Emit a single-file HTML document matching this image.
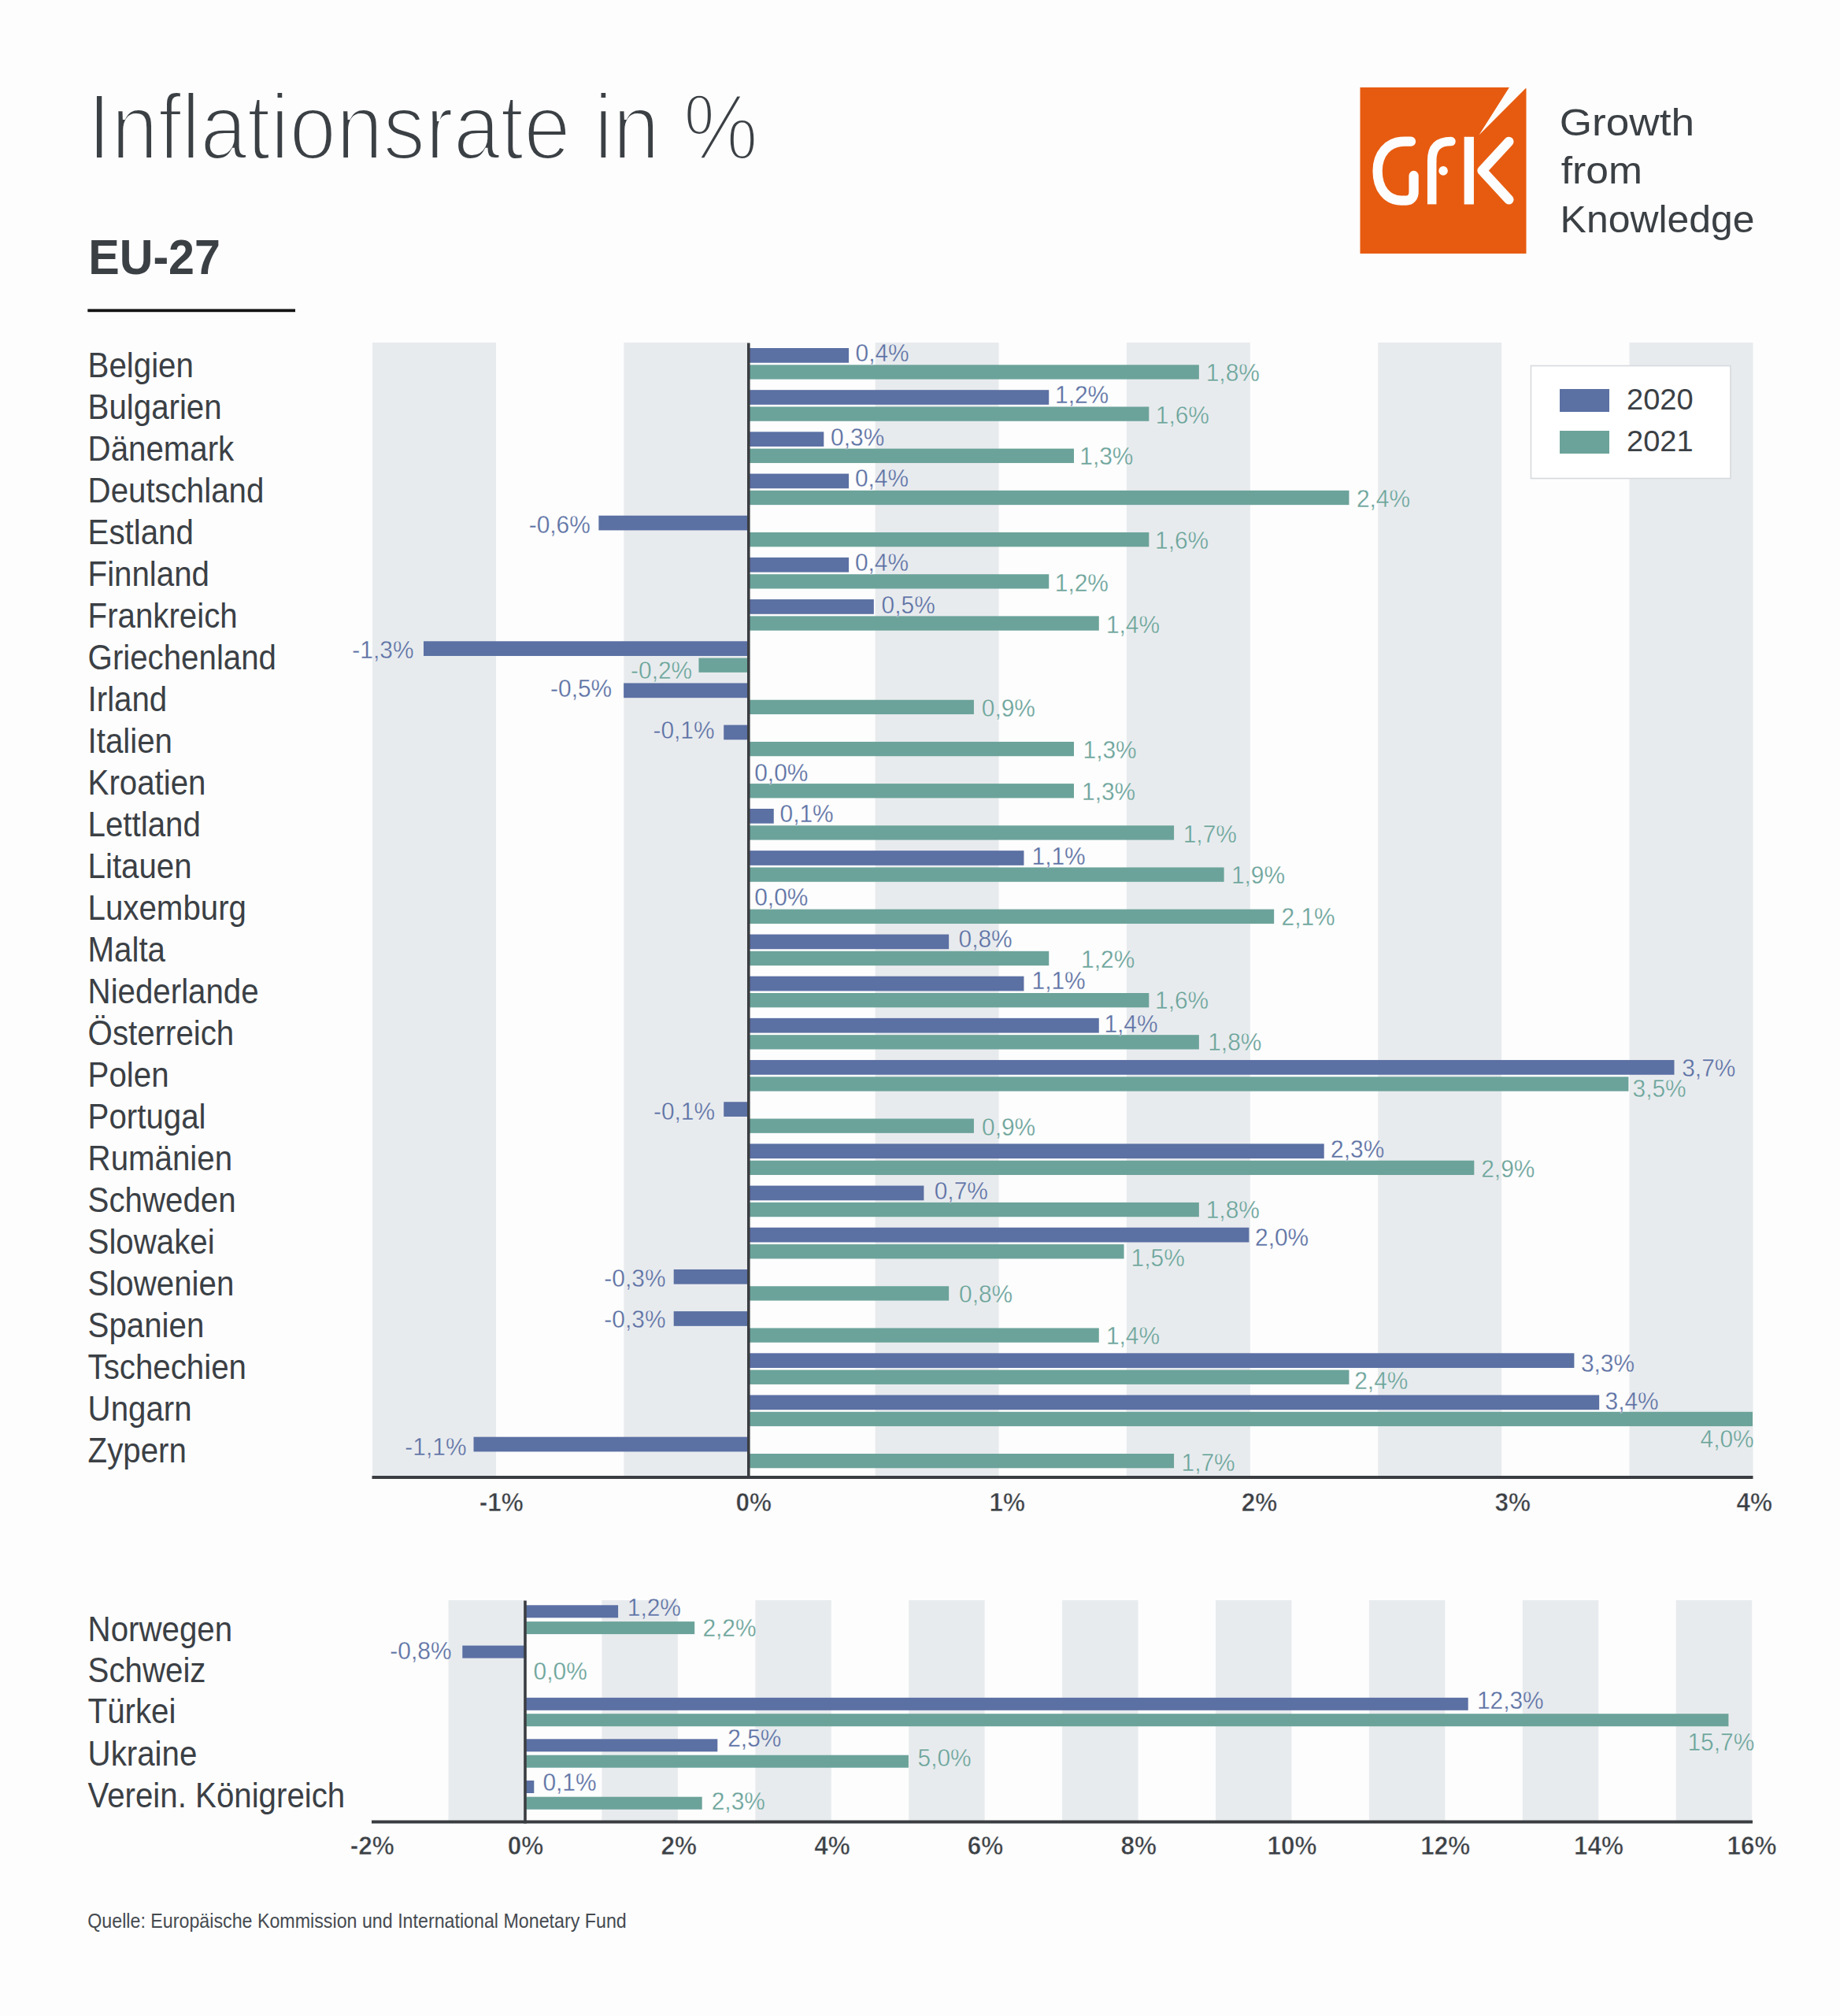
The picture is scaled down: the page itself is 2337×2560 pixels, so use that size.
<!DOCTYPE html><html><head><meta charset="utf-8"><title>Inflationsrate in %</title><style>html,body{margin:0;padding:0;background:#fdfdfd;}body{width:2337px;height:2560px;overflow:hidden;position:relative;}svg{position:absolute;left:0;top:0;}text{font-family:"Liberation Sans",sans-serif;}</style></head><body>
<svg width="2337" height="2560" viewBox="0 0 2337 2560">
<text transform="translate(111.37 202.00) scale(0.9080 1)" font-size="118.00" font-weight="400" fill="#3b4045" text-anchor="start" stroke="#fdfdfd" stroke-width="4">Inflationsrate in %</text>
<text transform="translate(112.15 347.80) scale(0.9400 1)" font-size="63.00" font-weight="700" fill="#3b4045" text-anchor="start">EU-27</text>
<rect x="111.3" y="392.4" width="263.7" height="3.8" fill="#141414"/>
<g>
<polygon points="1727.5,111 1916.9,111 1878.5,171.5 1937.6,112.3 1938.5,112.3 1938.5,322 1727.5,322" fill="#e75b10"/>
<g fill="none" stroke="#fdfdfd" stroke-width="12.3" stroke-linecap="round" stroke-linejoin="round">
<path d="M1792 179.6 L1784 179.6 C1762 179.6 1749.6 196 1749.6 217 C1749.6 240 1762 254.6 1780 254.6 L1786 254.6 C1792 254.6 1795.6 250 1795.6 244 L1795.6 223"/>
<path d="M1818.7 259.4 L1818.7 204" stroke-width="11.5" stroke-linecap="butt"/><path d="M1818.7 204 C1818.7 188 1826 179.6 1843 179.6" stroke-width="11.5"/>
<path d="M1865.8 173.8 L1865.8 259.4" stroke-linecap="butt"/>
<path d="M1916.4 179.8 L1882.5 216.6 L1916.4 253.4"/>
</g>
<circle cx="1833.1" cy="216.9" r="5.8" fill="#fdfdfd"/>
</g>
<text transform="translate(1980.77 172.30) scale(1.0910 1)" font-size="48.70" font-weight="400" fill="#3b4045" text-anchor="start">Growth</text>
<text transform="translate(1982.77 233.20) scale(1.0600 1)" font-size="48.70" font-weight="400" fill="#3b4045" text-anchor="start">from</text>
<text transform="translate(1981.60 295.20) scale(1.0250 1)" font-size="48.70" font-weight="400" fill="#3b4045" text-anchor="start">Knowledge</text>
<rect x="473.00" y="435" width="157" height="1439" fill="#e8ebee"/>
<rect x="792.30" y="435" width="157" height="1439" fill="#e8ebee"/>
<rect x="1111.60" y="435" width="157" height="1439" fill="#e8ebee"/>
<rect x="1430.90" y="435" width="157" height="1439" fill="#e8ebee"/>
<rect x="1750.20" y="435" width="157" height="1439" fill="#e8ebee"/>
<rect x="2069.50" y="435" width="157" height="1439" fill="#e8ebee"/>
<rect x="951.00" y="442.00" width="127.08" height="18.70" fill="#5b70a3"/>
<rect x="951.00" y="463.30" width="571.86" height="18.30" fill="#6ba39a"/>
<rect x="951.00" y="495.18" width="381.24" height="18.70" fill="#5b70a3"/>
<rect x="951.00" y="516.48" width="508.32" height="18.30" fill="#6ba39a"/>
<rect x="951.00" y="548.36" width="95.31" height="18.70" fill="#5b70a3"/>
<rect x="951.00" y="569.66" width="413.01" height="18.30" fill="#6ba39a"/>
<rect x="951.00" y="601.54" width="127.08" height="18.70" fill="#5b70a3"/>
<rect x="951.00" y="622.84" width="762.48" height="18.30" fill="#6ba39a"/>
<rect x="760.38" y="654.72" width="190.62" height="18.70" fill="#5b70a3"/>
<rect x="951.00" y="676.02" width="508.32" height="18.30" fill="#6ba39a"/>
<rect x="951.00" y="707.90" width="127.08" height="18.70" fill="#5b70a3"/>
<rect x="951.00" y="729.20" width="381.24" height="18.30" fill="#6ba39a"/>
<rect x="951.00" y="761.08" width="158.85" height="18.70" fill="#5b70a3"/>
<rect x="951.00" y="782.38" width="444.78" height="18.30" fill="#6ba39a"/>
<rect x="537.99" y="814.26" width="413.01" height="18.70" fill="#5b70a3"/>
<rect x="887.46" y="835.56" width="63.54" height="18.30" fill="#6ba39a"/>
<rect x="792.15" y="867.44" width="158.85" height="18.70" fill="#5b70a3"/>
<rect x="951.00" y="888.74" width="285.93" height="18.30" fill="#6ba39a"/>
<rect x="919.23" y="920.62" width="31.77" height="18.70" fill="#5b70a3"/>
<rect x="951.00" y="941.92" width="413.01" height="18.30" fill="#6ba39a"/>
<rect x="951.00" y="995.10" width="413.01" height="18.30" fill="#6ba39a"/>
<rect x="951.00" y="1026.98" width="31.77" height="18.70" fill="#5b70a3"/>
<rect x="951.00" y="1048.28" width="540.09" height="18.30" fill="#6ba39a"/>
<rect x="951.00" y="1080.16" width="349.47" height="18.70" fill="#5b70a3"/>
<rect x="951.00" y="1101.46" width="603.63" height="18.30" fill="#6ba39a"/>
<rect x="951.00" y="1154.64" width="667.17" height="18.30" fill="#6ba39a"/>
<rect x="951.00" y="1186.52" width="254.16" height="18.70" fill="#5b70a3"/>
<rect x="951.00" y="1207.82" width="381.24" height="18.30" fill="#6ba39a"/>
<rect x="951.00" y="1239.70" width="349.47" height="18.70" fill="#5b70a3"/>
<rect x="951.00" y="1261.00" width="508.32" height="18.30" fill="#6ba39a"/>
<rect x="951.00" y="1292.88" width="444.78" height="18.70" fill="#5b70a3"/>
<rect x="951.00" y="1314.18" width="571.86" height="18.30" fill="#6ba39a"/>
<rect x="951.00" y="1346.06" width="1175.49" height="18.70" fill="#5b70a3"/>
<rect x="951.00" y="1367.36" width="1117.40" height="18.30" fill="#6ba39a"/>
<rect x="919.23" y="1399.24" width="31.77" height="18.70" fill="#5b70a3"/>
<rect x="951.00" y="1420.54" width="285.93" height="18.30" fill="#6ba39a"/>
<rect x="951.00" y="1452.42" width="730.71" height="18.70" fill="#5b70a3"/>
<rect x="951.00" y="1473.72" width="921.33" height="18.30" fill="#6ba39a"/>
<rect x="951.00" y="1505.60" width="222.39" height="18.70" fill="#5b70a3"/>
<rect x="951.00" y="1526.90" width="571.86" height="18.30" fill="#6ba39a"/>
<rect x="951.00" y="1558.78" width="635.40" height="18.70" fill="#5b70a3"/>
<rect x="951.00" y="1580.08" width="476.55" height="18.30" fill="#6ba39a"/>
<rect x="855.69" y="1611.96" width="95.31" height="18.70" fill="#5b70a3"/>
<rect x="951.00" y="1633.26" width="254.16" height="18.30" fill="#6ba39a"/>
<rect x="855.69" y="1665.14" width="95.31" height="18.70" fill="#5b70a3"/>
<rect x="951.00" y="1686.44" width="444.78" height="18.30" fill="#6ba39a"/>
<rect x="951.00" y="1718.32" width="1048.41" height="18.70" fill="#5b70a3"/>
<rect x="951.00" y="1739.62" width="762.48" height="18.30" fill="#6ba39a"/>
<rect x="951.00" y="1771.50" width="1080.18" height="18.70" fill="#5b70a3"/>
<rect x="951.00" y="1792.80" width="1275.00" height="18.30" fill="#6ba39a"/>
<rect x="601.53" y="1824.68" width="349.47" height="18.70" fill="#5b70a3"/>
<rect x="951.00" y="1845.98" width="540.09" height="18.30" fill="#6ba39a"/>
<rect x="949" y="435.5" width="3.6" height="1442" fill="#3a3d41"/>
<rect x="472.5" y="1874" width="1754" height="4" fill="#3a3d41"/>
<text transform="translate(1086.50 458.90) scale(0.9650 1)" font-size="31.00" font-weight="400" fill="#5b70a3" text-anchor="start" stroke="#fdfdfd" stroke-width="0.3">0,4%</text>
<text transform="translate(1531.70 483.80) scale(0.9650 1)" font-size="31.00" font-weight="400" fill="#6ba39a" text-anchor="start" stroke="#fdfdfd" stroke-width="0.3">1,8%</text>
<text transform="translate(1340.00 512.20) scale(0.9650 1)" font-size="31.00" font-weight="400" fill="#5b70a3" text-anchor="start" stroke="#fdfdfd" stroke-width="0.3">1,2%</text>
<text transform="translate(1467.80 538.10) scale(0.9650 1)" font-size="31.00" font-weight="400" fill="#6ba39a" text-anchor="start" stroke="#fdfdfd" stroke-width="0.3">1,6%</text>
<text transform="translate(1055.10 566.00) scale(0.9650 1)" font-size="31.00" font-weight="400" fill="#5b70a3" text-anchor="start" stroke="#fdfdfd" stroke-width="0.3">0,3%</text>
<text transform="translate(1371.30 590.40) scale(0.9650 1)" font-size="31.00" font-weight="400" fill="#6ba39a" text-anchor="start" stroke="#fdfdfd" stroke-width="0.3">1,3%</text>
<text transform="translate(1085.90 618.40) scale(0.9650 1)" font-size="31.00" font-weight="400" fill="#5b70a3" text-anchor="start" stroke="#fdfdfd" stroke-width="0.3">0,4%</text>
<text transform="translate(1722.90 644.30) scale(0.9650 1)" font-size="31.00" font-weight="400" fill="#6ba39a" text-anchor="start" stroke="#fdfdfd" stroke-width="0.3">2,4%</text>
<text transform="translate(749.80 676.50) scale(0.9650 1)" font-size="31.00" font-weight="400" fill="#5b70a3" text-anchor="end" stroke="#fdfdfd" stroke-width="0.3">-0,6%</text>
<text transform="translate(1467.00 697.10) scale(0.9650 1)" font-size="31.00" font-weight="400" fill="#6ba39a" text-anchor="start" stroke="#fdfdfd" stroke-width="0.3">1,6%</text>
<text transform="translate(1085.90 725.00) scale(0.9650 1)" font-size="31.00" font-weight="400" fill="#5b70a3" text-anchor="start" stroke="#fdfdfd" stroke-width="0.3">0,4%</text>
<text transform="translate(1339.80 750.90) scale(0.9650 1)" font-size="31.00" font-weight="400" fill="#6ba39a" text-anchor="start" stroke="#fdfdfd" stroke-width="0.3">1,2%</text>
<text transform="translate(1119.60 778.80) scale(0.9650 1)" font-size="31.00" font-weight="400" fill="#5b70a3" text-anchor="start" stroke="#fdfdfd" stroke-width="0.3">0,5%</text>
<text transform="translate(1404.90 803.80) scale(0.9650 1)" font-size="31.00" font-weight="400" fill="#6ba39a" text-anchor="start" stroke="#fdfdfd" stroke-width="0.3">1,4%</text>
<text transform="translate(525.50 836.20) scale(0.9650 1)" font-size="31.00" font-weight="400" fill="#5b70a3" text-anchor="end" stroke="#fdfdfd" stroke-width="0.3">-1,3%</text>
<text transform="translate(879.20 862.30) scale(0.9650 1)" font-size="31.00" font-weight="400" fill="#6ba39a" text-anchor="end" stroke="#fdfdfd" stroke-width="0.3">-0,2%</text>
<text transform="translate(777.20 885.10) scale(0.9650 1)" font-size="31.00" font-weight="400" fill="#5b70a3" text-anchor="end" stroke="#fdfdfd" stroke-width="0.3">-0,5%</text>
<text transform="translate(1246.80 909.50) scale(0.9650 1)" font-size="31.00" font-weight="400" fill="#6ba39a" text-anchor="start" stroke="#fdfdfd" stroke-width="0.3">0,9%</text>
<text transform="translate(907.60 938.00) scale(0.9650 1)" font-size="31.00" font-weight="400" fill="#5b70a3" text-anchor="end" stroke="#fdfdfd" stroke-width="0.3">-0,1%</text>
<text transform="translate(1375.50 963.30) scale(0.9650 1)" font-size="31.00" font-weight="400" fill="#6ba39a" text-anchor="start" stroke="#fdfdfd" stroke-width="0.3">1,3%</text>
<text transform="translate(958.20 991.70) scale(0.9650 1)" font-size="31.00" font-weight="400" fill="#5b70a3" text-anchor="start" stroke="#fdfdfd" stroke-width="0.3">0,0%</text>
<text transform="translate(1374.00 1016.20) scale(0.9650 1)" font-size="31.00" font-weight="400" fill="#6ba39a" text-anchor="start" stroke="#fdfdfd" stroke-width="0.3">1,3%</text>
<text transform="translate(990.50 1044.10) scale(0.9650 1)" font-size="31.00" font-weight="400" fill="#5b70a3" text-anchor="start" stroke="#fdfdfd" stroke-width="0.3">0,1%</text>
<text transform="translate(1502.70 1070.00) scale(0.9650 1)" font-size="31.00" font-weight="400" fill="#6ba39a" text-anchor="start" stroke="#fdfdfd" stroke-width="0.3">1,7%</text>
<text transform="translate(1310.50 1097.90) scale(0.9650 1)" font-size="31.00" font-weight="400" fill="#5b70a3" text-anchor="start" stroke="#fdfdfd" stroke-width="0.3">1,1%</text>
<text transform="translate(1563.90 1122.30) scale(0.9650 1)" font-size="31.00" font-weight="400" fill="#6ba39a" text-anchor="start" stroke="#fdfdfd" stroke-width="0.3">1,9%</text>
<text transform="translate(958.20 1150.20) scale(0.9650 1)" font-size="31.00" font-weight="400" fill="#5b70a3" text-anchor="start" stroke="#fdfdfd" stroke-width="0.3">0,0%</text>
<text transform="translate(1627.50 1175.20) scale(0.9650 1)" font-size="31.00" font-weight="400" fill="#6ba39a" text-anchor="start" stroke="#fdfdfd" stroke-width="0.3">2,1%</text>
<text transform="translate(1217.50 1203.10) scale(0.9650 1)" font-size="31.00" font-weight="400" fill="#5b70a3" text-anchor="start" stroke="#fdfdfd" stroke-width="0.3">0,8%</text>
<text transform="translate(1373.10 1228.50) scale(0.9650 1)" font-size="31.00" font-weight="400" fill="#6ba39a" text-anchor="start" stroke="#fdfdfd" stroke-width="0.3">1,2%</text>
<text transform="translate(1310.50 1255.90) scale(0.9650 1)" font-size="31.00" font-weight="400" fill="#5b70a3" text-anchor="start" stroke="#fdfdfd" stroke-width="0.3">1,1%</text>
<text transform="translate(1467.00 1281.30) scale(0.9650 1)" font-size="31.00" font-weight="400" fill="#6ba39a" text-anchor="start" stroke="#fdfdfd" stroke-width="0.3">1,6%</text>
<text transform="translate(1402.40 1311.30) scale(0.9650 1)" font-size="31.00" font-weight="400" fill="#5b70a3" text-anchor="start" stroke="#fdfdfd" stroke-width="0.3">1,4%</text>
<text transform="translate(1534.20 1334.30) scale(0.9650 1)" font-size="31.00" font-weight="400" fill="#6ba39a" text-anchor="start" stroke="#fdfdfd" stroke-width="0.3">1,8%</text>
<text transform="translate(2136.20 1366.60) scale(0.9650 1)" font-size="31.00" font-weight="400" fill="#5b70a3" text-anchor="start" stroke="#fdfdfd" stroke-width="0.3">3,7%</text>
<text transform="translate(2073.50 1392.50) scale(0.9650 1)" font-size="31.00" font-weight="400" fill="#6ba39a" text-anchor="start" stroke="#fdfdfd" stroke-width="0.3">3,5%</text>
<text transform="translate(908.10 1422.30) scale(0.9650 1)" font-size="31.00" font-weight="400" fill="#5b70a3" text-anchor="end" stroke="#fdfdfd" stroke-width="0.3">-0,1%</text>
<text transform="translate(1247.00 1441.90) scale(0.9650 1)" font-size="31.00" font-weight="400" fill="#6ba39a" text-anchor="start" stroke="#fdfdfd" stroke-width="0.3">0,9%</text>
<text transform="translate(1690.10 1469.70) scale(0.9650 1)" font-size="31.00" font-weight="400" fill="#5b70a3" text-anchor="start" stroke="#fdfdfd" stroke-width="0.3">2,3%</text>
<text transform="translate(1881.20 1495.20) scale(0.9650 1)" font-size="31.00" font-weight="400" fill="#6ba39a" text-anchor="start" stroke="#fdfdfd" stroke-width="0.3">2,9%</text>
<text transform="translate(1186.70 1523.40) scale(0.9650 1)" font-size="31.00" font-weight="400" fill="#5b70a3" text-anchor="start" stroke="#fdfdfd" stroke-width="0.3">0,7%</text>
<text transform="translate(1531.70 1547.30) scale(0.9650 1)" font-size="31.00" font-weight="400" fill="#6ba39a" text-anchor="start" stroke="#fdfdfd" stroke-width="0.3">1,8%</text>
<text transform="translate(1594.00 1582.10) scale(0.9650 1)" font-size="31.00" font-weight="400" fill="#5b70a3" text-anchor="start" stroke="#fdfdfd" stroke-width="0.3">2,0%</text>
<text transform="translate(1436.60 1607.60) scale(0.9650 1)" font-size="31.00" font-weight="400" fill="#6ba39a" text-anchor="start" stroke="#fdfdfd" stroke-width="0.3">1,5%</text>
<text transform="translate(845.50 1634.30) scale(0.9650 1)" font-size="31.00" font-weight="400" fill="#5b70a3" text-anchor="end" stroke="#fdfdfd" stroke-width="0.3">-0,3%</text>
<text transform="translate(1218.00 1653.80) scale(0.9650 1)" font-size="31.00" font-weight="400" fill="#6ba39a" text-anchor="start" stroke="#fdfdfd" stroke-width="0.3">0,8%</text>
<text transform="translate(845.50 1686.40) scale(0.9650 1)" font-size="31.00" font-weight="400" fill="#5b70a3" text-anchor="end" stroke="#fdfdfd" stroke-width="0.3">-0,3%</text>
<text transform="translate(1404.90 1707.30) scale(0.9650 1)" font-size="31.00" font-weight="400" fill="#6ba39a" text-anchor="start" stroke="#fdfdfd" stroke-width="0.3">1,4%</text>
<text transform="translate(2007.90 1741.60) scale(0.9650 1)" font-size="31.00" font-weight="400" fill="#5b70a3" text-anchor="start" stroke="#fdfdfd" stroke-width="0.3">3,3%</text>
<text transform="translate(1720.20 1764.30) scale(0.9650 1)" font-size="31.00" font-weight="400" fill="#6ba39a" text-anchor="start" stroke="#fdfdfd" stroke-width="0.3">2,4%</text>
<text transform="translate(2038.50 1789.70) scale(0.9650 1)" font-size="31.00" font-weight="400" fill="#5b70a3" text-anchor="start" stroke="#fdfdfd" stroke-width="0.3">3,4%</text>
<text transform="translate(2227.70 1838.40) scale(0.9650 1)" font-size="31.00" font-weight="400" fill="#6ba39a" text-anchor="end" stroke="#fdfdfd" stroke-width="0.3">4,0%</text>
<text transform="translate(592.50 1848.40) scale(0.9650 1)" font-size="31.00" font-weight="400" fill="#5b70a3" text-anchor="end" stroke="#fdfdfd" stroke-width="0.3">-1,1%</text>
<text transform="translate(1500.50 1868.20) scale(0.9650 1)" font-size="31.00" font-weight="400" fill="#6ba39a" text-anchor="start" stroke="#fdfdfd" stroke-width="0.3">1,7%</text>
<text transform="translate(111.58 478.70) scale(0.9150 1)" font-size="44.00" font-weight="400" fill="#3b4045" text-anchor="start">Belgien</text>
<text transform="translate(111.58 531.73) scale(0.9150 1)" font-size="44.00" font-weight="400" fill="#3b4045" text-anchor="start">Bulgarien</text>
<text transform="translate(111.58 584.76) scale(0.9150 1)" font-size="44.00" font-weight="400" fill="#3b4045" text-anchor="start">Dänemark</text>
<text transform="translate(111.58 637.79) scale(0.9150 1)" font-size="44.00" font-weight="400" fill="#3b4045" text-anchor="start">Deutschland</text>
<text transform="translate(111.58 690.82) scale(0.9150 1)" font-size="44.00" font-weight="400" fill="#3b4045" text-anchor="start">Estland</text>
<text transform="translate(111.58 743.85) scale(0.9150 1)" font-size="44.00" font-weight="400" fill="#3b4045" text-anchor="start">Finnland</text>
<text transform="translate(111.58 796.88) scale(0.9150 1)" font-size="44.00" font-weight="400" fill="#3b4045" text-anchor="start">Frankreich</text>
<text transform="translate(111.58 849.91) scale(0.9150 1)" font-size="44.00" font-weight="400" fill="#3b4045" text-anchor="start">Griechenland</text>
<text transform="translate(111.58 902.94) scale(0.9150 1)" font-size="44.00" font-weight="400" fill="#3b4045" text-anchor="start">Irland</text>
<text transform="translate(111.58 955.97) scale(0.9150 1)" font-size="44.00" font-weight="400" fill="#3b4045" text-anchor="start">Italien</text>
<text transform="translate(111.58 1009.00) scale(0.9150 1)" font-size="44.00" font-weight="400" fill="#3b4045" text-anchor="start">Kroatien</text>
<text transform="translate(111.58 1062.03) scale(0.9150 1)" font-size="44.00" font-weight="400" fill="#3b4045" text-anchor="start">Lettland</text>
<text transform="translate(111.58 1115.06) scale(0.9150 1)" font-size="44.00" font-weight="400" fill="#3b4045" text-anchor="start">Litauen</text>
<text transform="translate(111.58 1168.09) scale(0.9150 1)" font-size="44.00" font-weight="400" fill="#3b4045" text-anchor="start">Luxemburg</text>
<text transform="translate(111.58 1221.12) scale(0.9150 1)" font-size="44.00" font-weight="400" fill="#3b4045" text-anchor="start">Malta</text>
<text transform="translate(111.58 1274.15) scale(0.9150 1)" font-size="44.00" font-weight="400" fill="#3b4045" text-anchor="start">Niederlande</text>
<text transform="translate(111.58 1327.18) scale(0.9150 1)" font-size="44.00" font-weight="400" fill="#3b4045" text-anchor="start">Österreich</text>
<text transform="translate(111.58 1380.21) scale(0.9150 1)" font-size="44.00" font-weight="400" fill="#3b4045" text-anchor="start">Polen</text>
<text transform="translate(111.58 1433.24) scale(0.9150 1)" font-size="44.00" font-weight="400" fill="#3b4045" text-anchor="start">Portugal</text>
<text transform="translate(111.58 1486.27) scale(0.9150 1)" font-size="44.00" font-weight="400" fill="#3b4045" text-anchor="start">Rumänien</text>
<text transform="translate(111.58 1539.30) scale(0.9150 1)" font-size="44.00" font-weight="400" fill="#3b4045" text-anchor="start">Schweden</text>
<text transform="translate(111.58 1592.33) scale(0.9150 1)" font-size="44.00" font-weight="400" fill="#3b4045" text-anchor="start">Slowakei</text>
<text transform="translate(111.58 1645.36) scale(0.9150 1)" font-size="44.00" font-weight="400" fill="#3b4045" text-anchor="start">Slowenien</text>
<text transform="translate(111.58 1698.39) scale(0.9150 1)" font-size="44.00" font-weight="400" fill="#3b4045" text-anchor="start">Spanien</text>
<text transform="translate(111.58 1751.42) scale(0.9150 1)" font-size="44.00" font-weight="400" fill="#3b4045" text-anchor="start">Tschechien</text>
<text transform="translate(111.58 1804.45) scale(0.9150 1)" font-size="44.00" font-weight="400" fill="#3b4045" text-anchor="start">Ungarn</text>
<text transform="translate(111.58 1857.48) scale(0.9150 1)" font-size="44.00" font-weight="400" fill="#3b4045" text-anchor="start">Zypern</text>
<text transform="translate(636.80 1918.80) scale(0.9400 1)" font-size="33.50" font-weight="700" fill="#3b4045" text-anchor="middle" stroke="#fdfdfd" stroke-width="0.6">-1%</text>
<text transform="translate(957.20 1918.80) scale(0.9400 1)" font-size="33.50" font-weight="700" fill="#3b4045" text-anchor="middle" stroke="#fdfdfd" stroke-width="0.6">0%</text>
<text transform="translate(1279.20 1918.80) scale(0.9400 1)" font-size="33.50" font-weight="700" fill="#3b4045" text-anchor="middle" stroke="#fdfdfd" stroke-width="0.6">1%</text>
<text transform="translate(1599.50 1918.80) scale(0.9400 1)" font-size="33.50" font-weight="700" fill="#3b4045" text-anchor="middle" stroke="#fdfdfd" stroke-width="0.6">2%</text>
<text transform="translate(1921.20 1918.80) scale(0.9400 1)" font-size="33.50" font-weight="700" fill="#3b4045" text-anchor="middle" stroke="#fdfdfd" stroke-width="0.6">3%</text>
<text transform="translate(2228.30 1918.80) scale(0.9400 1)" font-size="33.50" font-weight="700" fill="#3b4045" text-anchor="middle" stroke="#fdfdfd" stroke-width="0.6">4%</text>
<rect x="1944.5" y="464.5" width="253.5" height="143" fill="#ffffff" stroke="#d6d9dd" stroke-width="1.6"/>
<rect x="1981" y="494" width="63" height="29" fill="#5b70a3"/>
<rect x="1981" y="547" width="63" height="29" fill="#6ba39a"/>
<text transform="translate(2065.97 520.00) scale(1.0400 1)" font-size="36.60" font-weight="400" fill="#3b4045" text-anchor="start">2020</text>
<text transform="translate(2065.97 573.00) scale(1.0400 1)" font-size="36.60" font-weight="400" fill="#3b4045" text-anchor="start">2021</text>
<rect x="569.50" y="2032" width="96.5" height="280" fill="#e8ebee"/>
<rect x="764.40" y="2032" width="96.5" height="280" fill="#e8ebee"/>
<rect x="959.30" y="2032" width="96.5" height="280" fill="#e8ebee"/>
<rect x="1154.20" y="2032" width="96.5" height="280" fill="#e8ebee"/>
<rect x="1349.10" y="2032" width="96.5" height="280" fill="#e8ebee"/>
<rect x="1544.00" y="2032" width="96.5" height="280" fill="#e8ebee"/>
<rect x="1738.90" y="2032" width="96.5" height="280" fill="#e8ebee"/>
<rect x="1933.80" y="2032" width="96.5" height="280" fill="#e8ebee"/>
<rect x="2128.70" y="2032" width="96.5" height="280" fill="#e8ebee"/>
<rect x="668.20" y="2038.30" width="116.90" height="16" fill="#5b70a3"/>
<rect x="668.20" y="2059.10" width="214.00" height="16" fill="#6ba39a"/>
<rect x="587.30" y="2089.60" width="80.90" height="16" fill="#5b70a3"/>
<rect x="668.20" y="2155.80" width="1196.50" height="16" fill="#5b70a3"/>
<rect x="668.20" y="2176.20" width="1527.20" height="16" fill="#6ba39a"/>
<rect x="668.20" y="2208.30" width="243.10" height="16" fill="#5b70a3"/>
<rect x="668.20" y="2228.70" width="485.70" height="16" fill="#6ba39a"/>
<rect x="668.20" y="2261.00" width="10.10" height="16" fill="#5b70a3"/>
<rect x="668.20" y="2281.70" width="223.50" height="16" fill="#6ba39a"/>
<rect x="665.2" y="2032.5" width="3.6" height="283" fill="#3a3d41"/>
<rect x="472" y="2311.5" width="1754" height="4" fill="#3a3d41"/>
<text transform="translate(796.80 2052.30) scale(0.9650 1)" font-size="31.00" font-weight="400" fill="#5b70a3" text-anchor="start" stroke="#fdfdfd" stroke-width="0.3">1,2%</text>
<text transform="translate(892.40 2078.40) scale(0.9650 1)" font-size="31.00" font-weight="400" fill="#6ba39a" text-anchor="start" stroke="#fdfdfd" stroke-width="0.3">2,2%</text>
<text transform="translate(573.50 2106.70) scale(0.9650 1)" font-size="31.00" font-weight="400" fill="#5b70a3" text-anchor="end" stroke="#fdfdfd" stroke-width="0.3">-0,8%</text>
<text transform="translate(677.60 2132.80) scale(0.9650 1)" font-size="31.00" font-weight="400" fill="#6ba39a" text-anchor="start" stroke="#fdfdfd" stroke-width="0.3">0,0%</text>
<text transform="translate(1875.90 2170.10) scale(0.9650 1)" font-size="31.00" font-weight="400" fill="#5b70a3" text-anchor="start" stroke="#fdfdfd" stroke-width="0.3">12,3%</text>
<text transform="translate(2228.30 2223.00) scale(0.9650 1)" font-size="31.00" font-weight="400" fill="#6ba39a" text-anchor="end" stroke="#fdfdfd" stroke-width="0.3">15,7%</text>
<text transform="translate(924.20 2218.40) scale(0.9650 1)" font-size="31.00" font-weight="400" fill="#5b70a3" text-anchor="start" stroke="#fdfdfd" stroke-width="0.3">2,5%</text>
<text transform="translate(1165.50 2243.20) scale(0.9650 1)" font-size="31.00" font-weight="400" fill="#6ba39a" text-anchor="start" stroke="#fdfdfd" stroke-width="0.3">5,0%</text>
<text transform="translate(689.40 2274.10) scale(0.9650 1)" font-size="31.00" font-weight="400" fill="#5b70a3" text-anchor="start" stroke="#fdfdfd" stroke-width="0.3">0,1%</text>
<text transform="translate(903.70 2298.00) scale(0.9650 1)" font-size="31.00" font-weight="400" fill="#6ba39a" text-anchor="start" stroke="#fdfdfd" stroke-width="0.3">2,3%</text>
<text transform="translate(111.58 2084.00) scale(0.9150 1)" font-size="44.00" font-weight="400" fill="#3b4045" text-anchor="start">Norwegen</text>
<text transform="translate(111.58 2136.00) scale(0.9150 1)" font-size="44.00" font-weight="400" fill="#3b4045" text-anchor="start">Schweiz</text>
<text transform="translate(111.58 2188.00) scale(0.9150 1)" font-size="44.00" font-weight="400" fill="#3b4045" text-anchor="start">Türkei</text>
<text transform="translate(111.58 2242.00) scale(0.9150 1)" font-size="44.00" font-weight="400" fill="#3b4045" text-anchor="start">Ukraine</text>
<text transform="translate(111.58 2295.00) scale(0.9150 1)" font-size="44.00" font-weight="400" fill="#3b4045" text-anchor="start">Verein. Königreich</text>
<text transform="translate(472.80 2354.50) scale(0.9400 1)" font-size="33.50" font-weight="700" fill="#3b4045" text-anchor="middle" stroke="#fdfdfd" stroke-width="0.6">-2%</text>
<text transform="translate(667.50 2354.50) scale(0.9400 1)" font-size="33.50" font-weight="700" fill="#3b4045" text-anchor="middle" stroke="#fdfdfd" stroke-width="0.6">0%</text>
<text transform="translate(862.20 2354.50) scale(0.9400 1)" font-size="33.50" font-weight="700" fill="#3b4045" text-anchor="middle" stroke="#fdfdfd" stroke-width="0.6">2%</text>
<text transform="translate(1056.90 2354.50) scale(0.9400 1)" font-size="33.50" font-weight="700" fill="#3b4045" text-anchor="middle" stroke="#fdfdfd" stroke-width="0.6">4%</text>
<text transform="translate(1251.60 2354.50) scale(0.9400 1)" font-size="33.50" font-weight="700" fill="#3b4045" text-anchor="middle" stroke="#fdfdfd" stroke-width="0.6">6%</text>
<text transform="translate(1446.30 2354.50) scale(0.9400 1)" font-size="33.50" font-weight="700" fill="#3b4045" text-anchor="middle" stroke="#fdfdfd" stroke-width="0.6">8%</text>
<text transform="translate(1641.00 2354.50) scale(0.9400 1)" font-size="33.50" font-weight="700" fill="#3b4045" text-anchor="middle" stroke="#fdfdfd" stroke-width="0.6">10%</text>
<text transform="translate(1835.70 2354.50) scale(0.9400 1)" font-size="33.50" font-weight="700" fill="#3b4045" text-anchor="middle" stroke="#fdfdfd" stroke-width="0.6">12%</text>
<text transform="translate(2030.40 2354.50) scale(0.9400 1)" font-size="33.50" font-weight="700" fill="#3b4045" text-anchor="middle" stroke="#fdfdfd" stroke-width="0.6">14%</text>
<text transform="translate(2225.10 2354.50) scale(0.9400 1)" font-size="33.50" font-weight="700" fill="#3b4045" text-anchor="middle" stroke="#fdfdfd" stroke-width="0.6">16%</text>
<text transform="translate(111.25 2447.70) scale(0.9300 1)" font-size="25.00" font-weight="400" fill="#454a50" text-anchor="start">Quelle: Europäische Kommission und International Monetary Fund</text>
</svg></body></html>
